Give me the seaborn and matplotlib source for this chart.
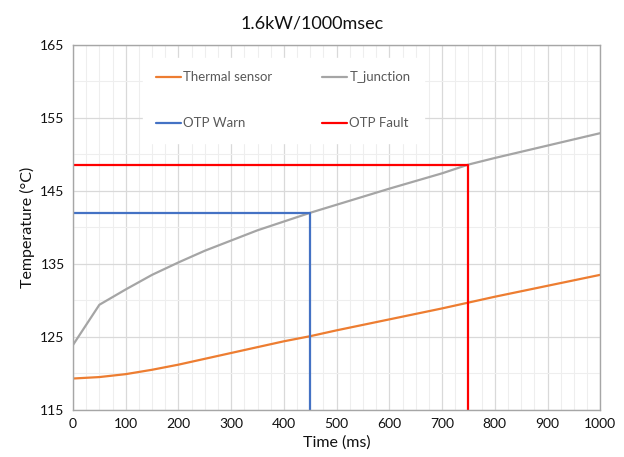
import numpy as np
import pandas as pd
import matplotlib
matplotlib.use("Agg")
import matplotlib.pyplot as plt
from matplotlib.ticker import MultipleLocator
import seaborn as sns

# data
time_ms = [0, 50, 100, 150, 200, 250, 300, 350, 400, 450, 500, 600, 700, 750, 800, 900, 1000]
thermal_sensor = [119.3, 119.5, 119.9, 120.5, 121.2, 122.0, 122.8, 123.6, 124.4, 125.1, 125.9,
                  127.4, 128.9, 129.7, 130.5, 132.0, 133.5]
t_junction = [123.9, 129.4, 131.5, 133.5, 135.2, 136.8, 138.2, 139.6, 140.8, 142.0, 143.1,
              145.3, 147.4, 148.6, 149.5, 151.2, 152.9]
otp_warn_x = [0, 450, 450]
otp_warn_y = [142.0, 142.0, 115.0]
otp_fault_x = [0, 750, 750]
otp_fault_y = [148.6, 148.6, 115.0]

sns.set_style("white")
plt.rcParams['font.family'] = ['Lato', 'DejaVu Sans']

fig = plt.figure(figsize=(6.24, 4.57), dpi=100)
ax = fig.add_axes([0.117, 0.103, 0.845, 0.799])

curves = pd.DataFrame({"time": time_ms, "Thermal sensor": thermal_sensor, "T_junction": t_junction})
sns.lineplot(data=curves, x="time", y="Thermal sensor", color="#ED7D31", lw=1.6,
             label="Thermal sensor", ax=ax)
sns.lineplot(data=curves, x="time", y="T_junction", color="#A5A5A5", lw=1.6,
             label="T_junction", ax=ax)
ax.plot(otp_warn_x, otp_warn_y, color="#4472C4", lw=1.6, label="OTP Warn")
ax.plot(otp_fault_x, otp_fault_y, color="#FF0000", lw=1.6, label="OTP Fault")

ax.set_xlim(0, 1000)
ax.set_ylim(115, 165)
ax.xaxis.set_major_locator(MultipleLocator(100))
ax.xaxis.set_minor_locator(MultipleLocator(25))
ax.yaxis.set_major_locator(MultipleLocator(10))
ax.yaxis.set_minor_locator(MultipleLocator(5))
ax.set_yticks([115, 125, 135, 145, 155, 165])
ax.grid(which="major", color="#D9D9D9", lw=0.9)
ax.grid(which="minor", color="#EEEEEE", lw=0.8)
ax.set_axisbelow(True)
ax.tick_params(which="both", length=0, labelsize=10, colors="#111111", pad=6)
for s in ax.spines.values():
    s.set_color("#A6A6A6")
    s.set_linewidth(1.0)

ax.set_xlabel("Time (ms)", fontsize=11.5, color="#111111")
ax.set_ylabel("Temperature (°C)", fontsize=11.5, color="#111111")
fig.suptitle("1.6kW/1000msec", y=0.965, fontsize=13, color="#111111")

# rows: Thermal sensor / T_junction, then OTP Warn / OTP Fault
handles, labels = ax.get_legend_handles_labels()
order = [0, 2, 1, 3]
leg = ax.legend([handles[i] for i in order], [labels[i] for i in order],
                ncol=2, loc="upper left", bbox_to_anchor=(0.12, 0.982), frameon=True,
                facecolor="white", edgecolor="white", framealpha=1, fontsize=9.5,
                handlelength=1.9, handletextpad=0.15, columnspacing=3.8, labelspacing=2.6,
                borderpad=1.0)
for t in leg.get_texts():
    t.set_color("#595959")

fig.savefig("out.png", dpi=100)
